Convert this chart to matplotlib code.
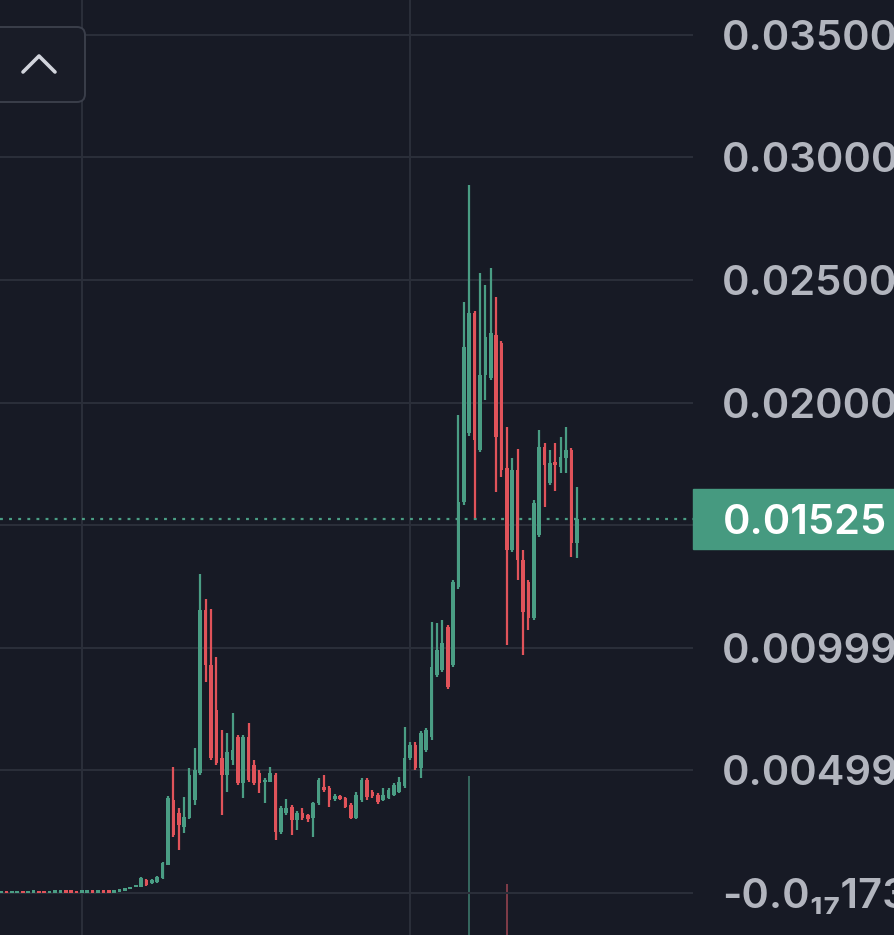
"""Candlestick price chart (dark theme) with right-hand price scale and last-price marker."""

import matplotlib
matplotlib.use("Agg")
import matplotlib.pyplot as plt
from matplotlib.patches import FancyBboxPatch, Rectangle
from matplotlib.transforms import blended_transform_factory
import numpy as np

# ── Data ─────────────────────────────────────────────────────────────────────
opens = [
    0.00002, 0.00005, 0.00002, 0.00003, 0.00005, 0.00002, 0.00004, 0.00006, 0.00005, 0.00003,
    0.00004, 0.00005, 0.00009, 0.00008, 0.00006, 0.00004, 0.00005, 0.00008, 0.00005, 0.00008,
    0.00007, 0.00005, 0.00008, 0.00010, 0.00016, 0.00024, 0.00024, 0.00053, 0.00041, 0.00045,
    0.00061, 0.00114, 0.00379, 0.00326, 0.00269, 0.00306, 0.00379, 0.00489, 0.01154, 0.00930,
    0.00746, 0.00551, 0.00481, 0.00542, 0.00636, 0.00449, 0.00636, 0.00522, 0.00489, 0.00453,
    0.00453, 0.00481, 0.00249, 0.00326, 0.00351, 0.00298, 0.00326, 0.00318, 0.00306, 0.00367,
    0.00432, 0.00428, 0.00383, 0.00396, 0.00387, 0.00359, 0.00306, 0.00379, 0.00461, 0.00412,
    0.00400, 0.00379, 0.00387, 0.00400, 0.00412, 0.00436, 0.00551, 0.00604, 0.00510, 0.00583,
    0.00636, 0.00889, 0.00909, 0.01085, 0.00930, 0.01248, 0.01594, 0.01876, 0.02365, 0.01807,
    0.02112, 0.02100, 0.02276, 0.02243, 0.01733, 0.01399, 0.01725, 0.01358, 0.01268, 0.01122,
    0.01460, 0.01819, 0.01672, 0.01758, 0.01737, 0.01774, 0.01807, 0.01427,
]
highs = [
    0.00005, 0.00005, 0.00005, 0.00005, 0.00005, 0.00005, 0.00006, 0.00006, 0.00005, 0.00006,
    0.00007, 0.00008, 0.00009, 0.00008, 0.00006, 0.00007, 0.00008, 0.00008, 0.00008, 0.00008,
    0.00007, 0.00010, 0.00013, 0.00017, 0.00024, 0.00033, 0.00065, 0.00057, 0.00057, 0.00069,
    0.00126, 0.00396, 0.00514, 0.00347, 0.00392, 0.00510, 0.00591, 0.01301, 0.01199, 0.01158,
    0.00962, 0.00665, 0.00652, 0.00734, 0.00644, 0.00644, 0.00693, 0.00542, 0.00502, 0.00469,
    0.00514, 0.00489, 0.00355, 0.00383, 0.00359, 0.00334, 0.00347, 0.00322, 0.00371, 0.00469,
    0.00481, 0.00436, 0.00404, 0.00400, 0.00392, 0.00367, 0.00412, 0.00469, 0.00469, 0.00420,
    0.00408, 0.00428, 0.00428, 0.00449, 0.00473, 0.00677, 0.00616, 0.00616, 0.00661, 0.00673,
    0.01105, 0.01101, 0.01113, 0.01093, 0.01276, 0.01949, 0.02410, 0.02887, 0.02373, 0.02528,
    0.02479, 0.02549, 0.02430, 0.02251, 0.01900, 0.01774, 0.01811, 0.01399, 0.01276, 0.01603,
    0.01888, 0.01835, 0.01807, 0.01835, 0.01860, 0.01900, 0.01815, 0.01656,
]
lows = [
    0.00002, 0.00002, 0.00002, 0.00003, 0.00002, 0.00002, 0.00004, 0.00003, 0.00002, 0.00003,
    0.00004, 0.00005, 0.00006, 0.00004, 0.00003, 0.00004, 0.00005, 0.00005, 0.00005, 0.00005,
    0.00004, 0.00005, 0.00008, 0.00010, 0.00016, 0.00024, 0.00024, 0.00029, 0.00037, 0.00041,
    0.00057, 0.00114, 0.00228, 0.00175, 0.00245, 0.00302, 0.00359, 0.00481, 0.00860, 0.00542,
    0.00522, 0.00318, 0.00412, 0.00522, 0.00440, 0.00387, 0.00453, 0.00440, 0.00408, 0.00367,
    0.00453, 0.00216, 0.00241, 0.00318, 0.00237, 0.00257, 0.00298, 0.00290, 0.00228, 0.00359,
    0.00412, 0.00351, 0.00375, 0.00379, 0.00347, 0.00302, 0.00302, 0.00371, 0.00379, 0.00387,
    0.00363, 0.00375, 0.00383, 0.00396, 0.00408, 0.00428, 0.00542, 0.00502, 0.00469, 0.00575,
    0.00624, 0.00881, 0.00901, 0.00832, 0.00922, 0.01240, 0.01582, 0.01864, 0.01529, 0.01799,
    0.02010, 0.02092, 0.01635, 0.01696, 0.01011, 0.01391, 0.01276, 0.00971, 0.01073, 0.01114,
    0.01452, 0.01574, 0.01664, 0.01639, 0.01713, 0.01713, 0.01370, 0.01366,
]
closes = [
    0.00005, 0.00002, 0.00005, 0.00005, 0.00002, 0.00005, 0.00006, 0.00003, 0.00002, 0.00006,
    0.00007, 0.00008, 0.00006, 0.00004, 0.00003, 0.00007, 0.00008, 0.00005, 0.00008, 0.00005,
    0.00004, 0.00010, 0.00013, 0.00017, 0.00024, 0.00033, 0.00061, 0.00033, 0.00053, 0.00065,
    0.00122, 0.00387, 0.00237, 0.00277, 0.00310, 0.00481, 0.00502, 0.01154, 0.00930, 0.00551,
    0.00530, 0.00481, 0.00575, 0.00583, 0.00449, 0.00636, 0.00461, 0.00449, 0.00449, 0.00461,
    0.00489, 0.00249, 0.00347, 0.00347, 0.00298, 0.00326, 0.00306, 0.00302, 0.00367, 0.00461,
    0.00420, 0.00379, 0.00396, 0.00383, 0.00351, 0.00306, 0.00400, 0.00461, 0.00392, 0.00396,
    0.00371, 0.00400, 0.00420, 0.00440, 0.00453, 0.00551, 0.00604, 0.00510, 0.00652, 0.00665,
    0.00922, 0.00991, 0.01020, 0.00840, 0.01268, 0.01594, 0.02227, 0.02365, 0.01847, 0.02112,
    0.02267, 0.02284, 0.01860, 0.01725, 0.01399, 0.01725, 0.01358, 0.01146, 0.01122, 0.01590,
    0.01819, 0.01745, 0.01753, 0.01745, 0.01778, 0.01807, 0.01427, 0.01525,
]
# relative volume per candle (only two bars are visible in the picture)
volumes = [
    0, 0, 0, 0, 0, 0, 0, 0, 0, 0,
    0, 0, 0, 0, 0, 0, 0, 0, 0, 0,
    0, 0, 0, 0, 0, 0, 0, 0, 0, 0,
    0, 0, 0, 0, 0, 0, 0, 0, 0, 0,
    0, 0, 0, 0, 0, 0, 0, 0, 0, 0,
    0, 0, 0, 0, 0, 0, 0, 0, 0, 0,
    0, 0, 0, 0, 0, 0, 0, 0, 0, 0,
    0, 0, 0, 0, 0, 0, 0, 0, 0, 0,
    0, 0, 0, 0, 0, 0, 0, 100, 0, 0,
    0, 0, 0, 0, 32, 0, 0, 0, 0, 0,
    0, 0, 0, 0, 0, 0, 0, 0,
]

last_price = 0.01525
last_price_label = "0.01525"

price_ticks = [0.0, 0.005, 0.010, 0.015, 0.020, 0.025, 0.030, 0.035]
price_tick_labels = ["-0.0₁₇173", "0.00499", "0.00999", "", "0.02000", "0.02500", "0.03000", "0.03500"]
time_grid = [15, 76]   # candle indices of the vertical time gridlines

# ── Style ────────────────────────────────────────────────────────────────────
_BG = "#171a25"
_GRID = "#2a2e39"
_UP = "#4a9d84"
_DOWN = "#e0535a"
_UP_VOL = "#35665e"
_DOWN_VOL = "#7d3b47"
_LABEL = "#b2b5be"
_BOX = "#469a80"
_FONT = dict(family=["Inter", "DejaVu Sans"], weight=600, size=30)
_MIN_BODY = 0.00011    # keep doji / flat candles visible

W, H = 894, 935
PLOT_W = 693           # px width of the candle pane; price scale to its right

o = np.array(opens)
hi = np.array(highs)
lo = np.array(lows)
c = np.array(closes)
vol = np.array(volumes, dtype=float)
x = np.arange(len(o))
up = c >= o
colors = np.where(up, _UP, _DOWN)

fig = plt.figure(figsize=(W / 100, H / 100), dpi=100, facecolor=_BG)
rect = [0, 0, PLOT_W / W, 1]

# volume pane underneath the price pane
ax_vol = fig.add_axes(rect)
ax_vol.set_facecolor(_BG)
ax_vol.bar(x, vol, width=0.4, color=np.where(up, _UP_VOL, _DOWN_VOL), linewidth=0)
ax_vol.set_xlim(-0.22, 128.6)
ax_vol.set_ylim(0, 588)
ax_vol.axis("off")
ax_vol.set_zorder(0)

ax = fig.add_axes(rect)
ax.set_zorder(1)
ax.patch.set_visible(False)
for s in ax.spines.values():
    s.set_visible(False)

# wicks + bodies
ax.vlines(x, lo, hi, colors=colors, linewidth=1.6, zorder=3)
span = np.abs(c - o)
body_h = np.maximum(span, _MIN_BODY)
body_bottom = np.where(span >= _MIN_BODY, np.minimum(o, c), (o + c) / 2 - _MIN_BODY / 2)
ax.bar(x, body_h, bottom=body_bottom, width=0.68, color=colors, linewidth=0, zorder=4)

ax.set_xlim(-0.22, 128.6)
ax.set_ylim(-0.001713, 0.03642)

ax.set_xticks(time_grid)
ax.set_yticks(price_ticks)
ax.set_yticklabels(price_tick_labels, fontdict=_FONT)
ax.yaxis.tick_right()
ax.tick_params(axis="x", length=0, labelbottom=False)
ax.tick_params(axis="y", length=0, pad=21, labelcolor=_LABEL)
ax.grid(True, color=_GRID, linewidth=1.5)
ax.set_axisbelow(True)

# last price: dotted line + label box on the scale
ax.axhline(last_price, color=_UP, linewidth=1.6, linestyle=(0, (1.3, 2.8)), zorder=2)
trans = blended_transform_factory(ax.transAxes, ax.transData)
box_half = 0.00124
ax.add_patch(Rectangle((1.0, last_price - box_half), 0.4, 2 * box_half,
                       transform=trans, color=_BOX, clip_on=False, zorder=5))
ax.text(1.0 + 30 / PLOT_W, last_price, last_price_label, transform=trans,
        ha="left", va="center_baseline", color="white", clip_on=False, zorder=6, **_FONT)

# collapse button in the top-left corner (pixel overlay)
ov = fig.add_axes([0, 0, 1, 1])
ov.set_xlim(0, W)
ov.set_ylim(H, 0)
ov.axis("off")
ov.patch.set_visible(False)
ov.set_zorder(5)
ov.add_patch(FancyBboxPatch((-20, 27), 105, 75, boxstyle="round,pad=0,rounding_size=8",
                            facecolor="#191c27", edgecolor="#3a3e4a", linewidth=1.4))
ov.plot([23, 39, 55], [72, 56, 72], color="#d1d4dc", linewidth=2.6,
        solid_capstyle="round", solid_joinstyle="round")

fig.savefig("out.png", dpi=100, facecolor=_BG)
plt.close(fig)
